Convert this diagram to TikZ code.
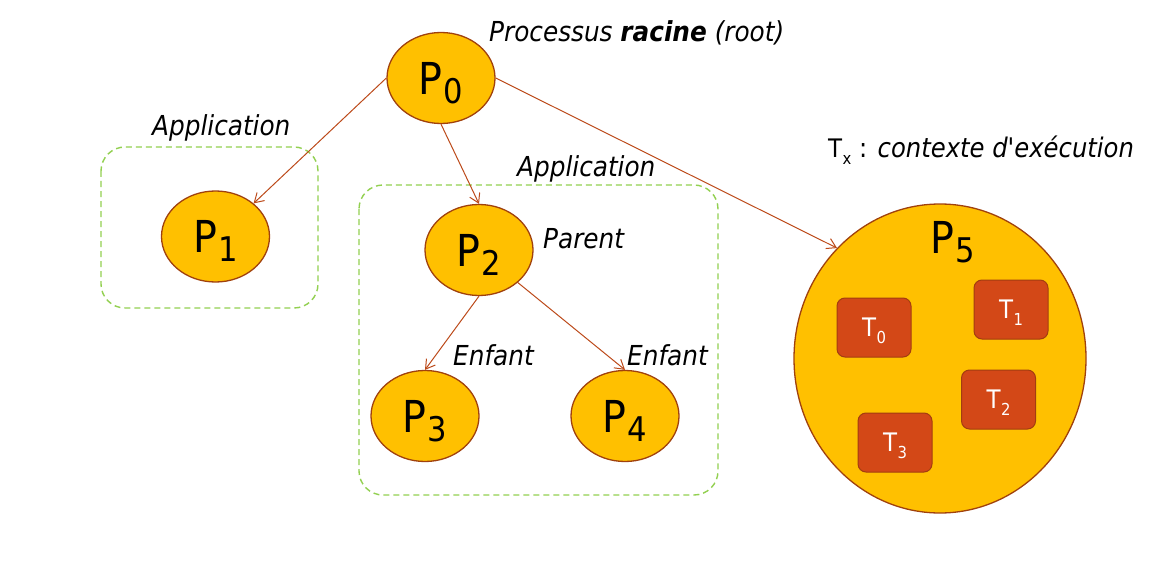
\documentclass[tikz,border=0pt]{standalone}
\usepackage{fontspec}
\setmainfont{DejaVu Sans Condensed}
\usetikzlibrary{shapes.geometric,arrows.meta}
\definecolor{procfill}{HTML}{FFC000}
\definecolor{procdraw}{HTML}{A0410D}
\definecolor{edgecol}{HTML}{BC4A1A}
\definecolor{thrfill}{HTML}{D34817}
\definecolor{thrdraw}{HTML}{A33D10}
\definecolor{appgreen}{HTML}{92D050}
\newcommand\bigP[1]{\fontsize{44}{44}\selectfont P\kern1pt\raisebox{-9pt}[0pt][0pt]{\fontsize{34}{34}\selectfont #1}}
\newcommand\smallT[1]{\fontsize{25.5}{25.5}\selectfont T\kern0.5pt\raisebox{-6.5pt}[0pt][0pt]{\fontsize{16.5}{16.5}\selectfont #1}}
\tikzset{
  proc/.style={ellipse, draw=procdraw, fill=procfill, line width=1.3pt, inner sep=0pt,
    minimum width=108pt, minimum height=91pt},
  thr/.style={rectangle, rounded corners=8pt, draw=thrdraw, fill=thrfill, line width=1pt,
    inner sep=0pt, minimum width=74pt, minimum height=59pt, text=white},
  edge/.style={draw=edgecol, line width=1pt, -{Straight Barb[length=9pt,width=11pt]}},
  app/.style={draw=appgreen, line width=1.4pt, dash pattern=on 6pt off 4pt, rounded corners=24pt},
  lbl/.style={inner sep=0pt, anchor=base west, font=\fontsize{27.5}{27.5}\selectfont\itshape}
}
\begin{document}
\begin{tikzpicture}[x=1pt,y=-1pt]
\useasboundingbox (0,0) rectangle (1166,572);
% application boxes
\draw[app] (101,147) rectangle (318,308);
\draw[app] (359,185) rectangle (718,495);
\node[lbl] (app1) at (152,136) {Application};
\node[lbl] (app2) at (517,176) {Application};
% processes
\node[proc] (P0) at (441,78) {\bigP{0}};
\node[proc] (P1) at (215.5,236.5) {\bigP{1}};
\node[proc] (P2) at (479,250) {\bigP{2}};
\node[proc] (P3) at (425,416) {\bigP{3}};
\node[proc] (P4) at (625,416) {\bigP{4}};
\node[ellipse, draw=procdraw, fill=procfill, line width=1.3pt, inner sep=0pt,
  minimum width=292pt, minimum height=309pt] (P5) at (940,358.5) {};
\node[inner sep=0pt, anchor=base west] (P5lbl) at (930,253) {\bigP{5}};
% threads
\node[thr] (T0) at (874,327.5) {\smallT{0}};
\node[thr] (T1) at (1011,309.5) {\smallT{1}};
\node[thr] (T2) at (998.5,399.5) {\smallT{2}};
\node[thr] (T3) at (895,442.5) {\smallT{3}};
% labels
\node[lbl] (root) at (489,42) {Processus \textbf{racine} (root)};
\node[lbl] (parent) at (543,248) {Parent};
\node[lbl] (enf1) at (453,365) {Enfant};
\node[lbl] (enf2) at (627,365) {Enfant};
\node[inner sep=0pt, anchor=base west] (tx) at (828,158)
  {\smallT{x}\fontsize{27}{27}\selectfont\ : \itshape contexte d\textquotesingle exécution};
% edges
\draw[edge] (P0.west) -- (P1.41);
\draw[edge] (P0.south) -- (P2.north);
\draw[edge] (P0.east) -- (P5.133);
\draw[edge] (P2.south) -- (P3.north);
\draw[edge] (P2.-40) -- (P4.north);
\end{tikzpicture}
\end{document}
